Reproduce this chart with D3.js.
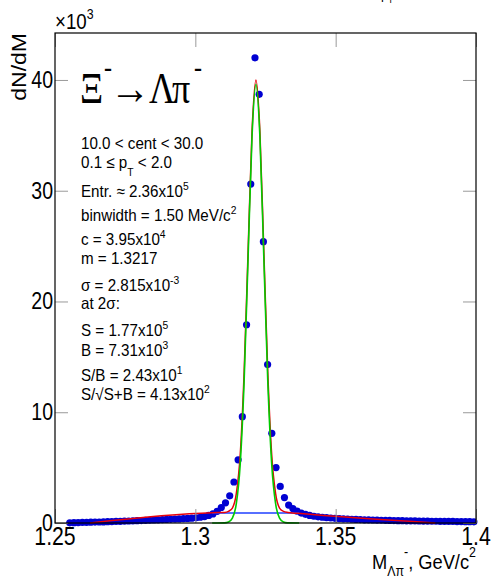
<!DOCTYPE html>
<html><head><meta charset="utf-8">
<script src="https://cdn.jsdelivr.net/npm/d3@7"></script>
<style>body{margin:0;background:#fff}svg{display:block}</style>
</head><body>
<svg id="c" width="493" height="579"></svg>
<script>
// ---------------- data ----------------
const massMin = 1.25, massMax = 1.4;
const binWidth = 0.0015;
const firstBin = 3;               // first filled bin index
// dN/dM in units of 10^3, bins 3..99
const counts = [
  0.02,0.03,0.04,0.05,0.06,0.07,0.08,0.09,0.10,0.12,0.13,0.14,0.15,0.17,0.18,0.19,
  0.21,0.22,0.24,0.25,0.27,0.28,0.30,0.32,0.33,0.35,0.37,0.39,0.41,0.44,0.47,
  0.52,0.58,0.68,0.82,1.05,1.40,1.82,2.45,3.70,5.70,9.60,17.9,30.6,42.0,38.7,25.4,
  14.3,8.1,5.0,3.3,2.3,1.62,1.30,1.07,0.90,0.78,0.68,0.61,0.56,0.52,0.48,0.45,0.42,
  0.40,0.38,0.36,0.34,0.32,0.31,0.29,0.28,0.27,0.26,0.25,0.24,0.23,0.22,0.21,0.21,
  0.20,0.19,0.19,0.18,0.17,0.17,0.16,0.16,0.15,0.15,0.14,0.14,0.13,0.13,0.12,0.12,0.11
];
// total fit (red)
const fitMass = [1.2625,1.3060,1.3104,1.3118,1.3132,1.3146,1.3160,1.3174,1.3188,1.3202,1.3216,
                 1.3230,1.3244,1.3258,1.3272,1.3286,1.3300,1.3314,1.3330,1.3365,1.3855];
const fitVal  = [0.00,0.93,0.95,1.05,1.35,2.65,6.2,13.7,24.6,35.4,40.0,
                 35.4,24.6,13.7,6.2,2.65,1.35,1.05,0.95,0.87,0.00];
// signal Gaussian (green)
const sigMass = [1.3060,1.3104,1.3118,1.3132,1.3146,1.3160,1.3174,1.3188,1.3202,1.3216,
                 1.3230,1.3244,1.3258,1.3272,1.3286,1.3300,1.3314,1.3328,1.3370];
const sigVal  = [0.00,0.01,0.09,0.44,1.74,5.36,12.9,24.0,34.9,39.6,
                 34.9,24.0,12.9,5.36,1.74,0.44,0.09,0.01,0.00];
// background (blue)
const bgMass = [1.3060,1.3370];
const bgVal  = [0.90,0.90];
// axes
const xTicks = [1.25,1.3,1.35,1.4];
const xTickLabels = ["1.25","1.3","1.35","1.4"];
const yTicks = [0,10,20,30,40];
const yTickLabels = ["0","10","20","30","40"];
// statistics box lines
const statLines = [
  [["10.0 < cent < 30.0",""]],
  [["0.1 \u2264 p",""],["T","sub"],[" < 2.0",""]],
  [["Entr. \u2248 2.36x10",""],["5","sup"]],
  [["binwidth = 1.50 MeV/c",""],["2","sup"]],
  [["c = 3.95x10",""],["4","sup"]],
  [["m = 1.3217",""]],
  [["\u03c3 = 2.815x10",""],["-3","sup"]],
  [["at 2\u03c3:",""]],
  [["S = 1.77x10",""],["5","sup"]],
  [["B = 7.31x10",""],["3","sup"]],
  [["S/B = 2.43x10",""],["1","sup"]],
  [["S/\u221aS+B = 4.13x10",""],["2","sup"]]
];
const statBaselines = [149,168,197,221,245,264,291,309,336,356,381,400];

// ---------------- layout ----------------
const L = 55, R = 476, T = 33, B = 523;
const SX = 0.85;   // horizontal squeeze of glyphs
const svg = d3.select("#c");
const x = d3.scaleLinear().domain([massMin, massMax]).range([L, R]);
const y = d3.scaleLinear().domain([0, 44.24]).range([B, T]);

function label(g, px, py, parts, o) {
  const t = g.append("text")
    .attr("transform", `translate(${px},${py}) scale(${o.sx||SX},1)` + (o.rot ? ` rotate(${o.rot})` : ""))
    .attr("font-family", o.family || "'Liberation Sans', Arial, sans-serif")
    .attr("font-size", o.size)
    .attr("text-anchor", o.anchor || "start")
    .attr("fill", o.fill || "#000");
  let shift = 0;
  parts.forEach(([s, kind]) => {
    const ts = t.append("tspan").text(s);
    let target = 0, fs = o.size;
    if (kind === "sup") { target = -(o.supUp || o.size * 0.42); fs = o.size * (o.supScale || 0.68); }
    if (kind === "sub") { target = (o.subDown || o.size * 0.45); fs = o.size * (o.supScale || 0.68); }
    ts.attr("dy", target - shift).attr("font-size", fs);
    shift = target;
  });
  return t;
}

// ---------------- data marks ----------------
const pts = counts.map((v, i) => ({m: massMin + (firstBin + i + 0.5) * binWidth, v}));
svg.append("g").selectAll("circle").data(pts).join("circle")
  .attr("cx", d => x(d.m)).attr("cy", d => y(d.v)).attr("r", 3.6)
  .attr("fill", "#0000d2");

const line = d3.line().x(d => x(d[0])).y(d => y(d[1])).curve(d3.curveMonotoneX);
svg.append("path").datum(bgMass.map((m, i) => [m, bgVal[i]]))
  .attr("d", line).attr("fill", "none").attr("stroke", "#1f3fff").attr("stroke-width", 1.5);
svg.append("path").datum(fitMass.map((m, i) => [m, fitVal[i]]))
  .attr("d", line).attr("fill", "none").attr("stroke", "#e8000b").attr("stroke-width", 1.5);
svg.append("path").datum(sigMass.map((m, i) => [m, sigVal[i]]))
  .attr("d", line).attr("fill", "none").attr("stroke", "#00cc00").attr("stroke-width", 1.6);

// ---------------- axes ----------------
const tickCol = "#9a9a9a";
function styleAxis(g) {
  g.select(".domain").remove();
  g.selectAll("text").remove();
  g.selectAll("line").attr("stroke", tickCol);
}
svg.append("g").attr("transform", `translate(0,${B})`)
  .call(d3.axisBottom(x).tickValues(xTicks).tickSize(-14)).call(styleAxis);
svg.append("g").attr("transform", `translate(0,${T})`)
  .call(d3.axisTop(x).tickValues(xTicks).tickSize(-14)).call(styleAxis);
svg.append("g").attr("transform", `translate(${L},0)`)
  .call(d3.axisLeft(y).tickValues(yTicks).tickSize(-13)).call(styleAxis);
svg.append("g").attr("transform", `translate(${R},0)`)
  .call(d3.axisRight(y).tickValues(yTicks).tickSize(-13)).call(styleAxis);

svg.append("rect").attr("x", L).attr("y", T).attr("width", R - L).attr("height", B - T)
  .attr("fill", "none").attr("stroke", "#000").attr("stroke-width", 1.2);

// tick labels
const lab = svg.append("g");
xTicks.forEach((t, i) => label(lab, x(t), 545, [[xTickLabels[i], ""]], {size: 25, anchor: "middle"}));
yTicks.forEach((t, i) => label(lab, 53, y(t) + 8, [[yTickLabels[i], ""]], {size: 23, anchor: "end"}));

// exponent
label(lab, 55, 29, [["\u00d710", ""], ["3", "sup"]], {size: 22, supUp: 10, supScale: 0.66});

// axis titles
label(lab, 26, 33, [["dN/dM", ""]], {size: 23, anchor: "end", rot: -90, sx: 0.88});
label(lab, 476, 569, [["M", ""], ["\u039b\u03c0", "sub"], ["-", "sup"], [", GeV/c", ""], ["2", "sup"]],
  {size: 21, anchor: "end", sx: 0.87, subDown: 7, supUp: 12, supScale: 0.68});

// cut-off title fragment at top
label(lab, 381, -1, [["p", ""], ["T", "sub"]], {size: 15, subDown: 4});

// decay title
const serif = "'Liberation Serif', 'Times New Roman', serif";
label(lab, 80, 103, [["\u039e", ""]], {size: 45, family: serif, sx: 0.8});
label(lab, 104, 77, [["-", ""]], {size: 30, family: serif, sx: 0.8});
label(lab, 110, 104, [["\u2192", ""]], {size: 46, family: serif, sx: 0.88});
label(lab, 149, 103, [["\u039b", ""]], {size: 45, family: serif, sx: 0.8});
label(lab, 172, 103, [["\u03c0", ""]], {size: 45, family: serif, sx: 0.8});
label(lab, 194, 77, [["-", ""]], {size: 30, family: serif, sx: 0.8});

// statistics text
statLines.forEach((parts, i) =>
  label(lab, 81, statBaselines[i], parts, {size: 16.5, sx: 0.92, supUp: 7, subDown: 8, supScale: 0.68}));
</script>
</body></html>
